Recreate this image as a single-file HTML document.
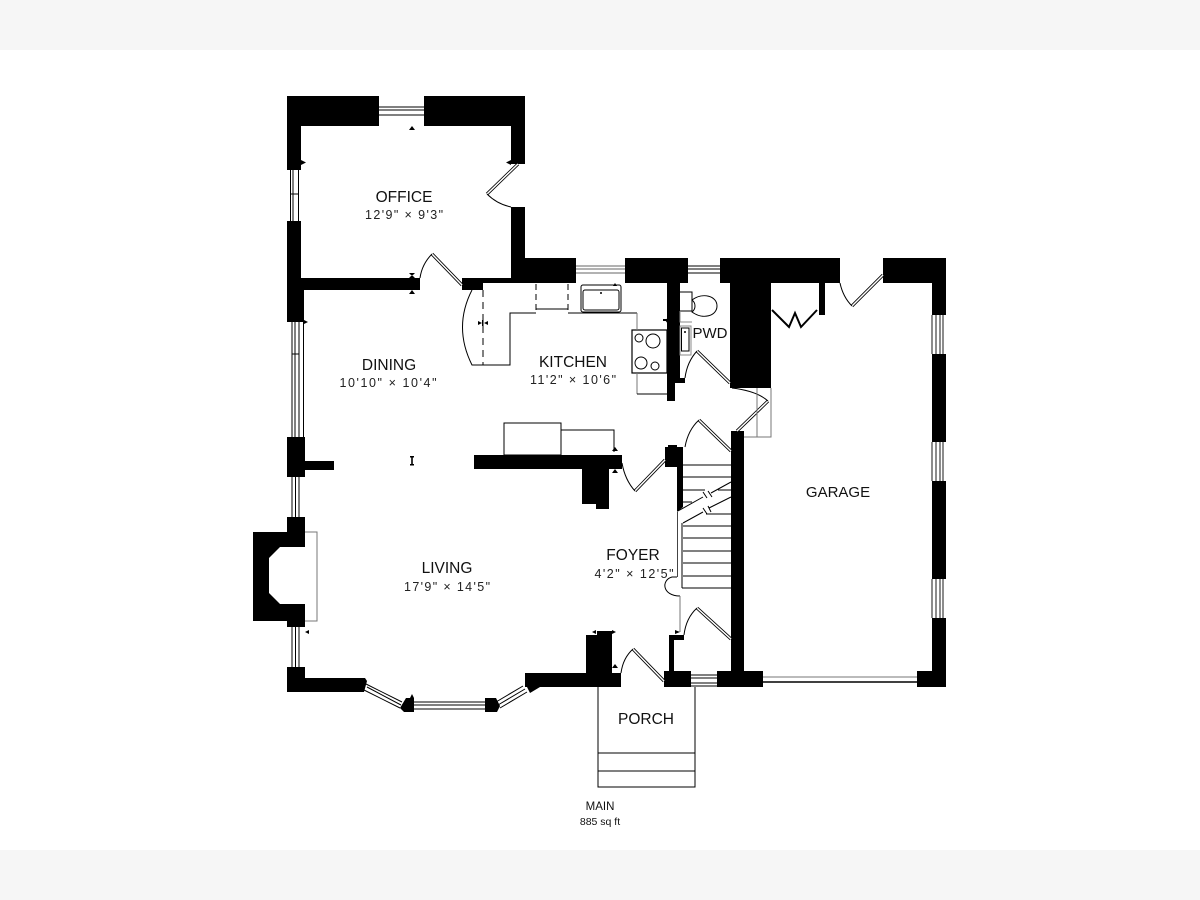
<!DOCTYPE html>
<html><head><meta charset="utf-8"><style>
html,body{margin:0;padding:0;background:#fff}
svg{display:block}
text{font-family:"Liberation Sans",sans-serif;fill:#111;text-anchor:middle}
.n{font-size:15.5px}.d{font-size:12.5px;fill:#222}
.w{fill:#000;stroke:none}
.l{fill:none;stroke:#000;stroke-width:1}
.g{fill:none;stroke:#777;stroke-width:1}
.dr{fill:none;stroke:#000;stroke-width:3.2}
.dw{fill:none;stroke:#fff;stroke-width:1.5}
</style></head><body>
<svg width="1200" height="900" viewBox="0 0 1200 900" xmlns="http://www.w3.org/2000/svg">
<rect width="1200" height="900" fill="#fff"/>
<rect width="1200" height="50" fill="#f6f6f6"/>
<rect y="850" width="1200" height="50" fill="#f6f6f6"/>

<!-- walls -->
<g class="w">
<rect x="287" y="96" width="92" height="30"/>
<rect x="424" y="96" width="101" height="30"/>
<rect x="287" y="96" width="14" height="74"/>
<rect x="511" y="96" width="14" height="68"/>
<rect x="511" y="207" width="14" height="76"/>
<rect x="511" y="258" width="65" height="25"/>
<rect x="287" y="221" width="14" height="69"/>
<rect x="287" y="278" width="133" height="12"/>
<rect x="287" y="290" width="17" height="32"/>
<rect x="462" y="278" width="21" height="12"/>
<rect x="462" y="278" width="60" height="5"/>
<rect x="625" y="258" width="63" height="25"/>
<rect x="667" y="283" width="13" height="100"/>
<rect x="667" y="383" width="8" height="18"/>
<rect x="675" y="378" width="10" height="5"/>
<rect x="720" y="258" width="120" height="25"/>
<rect x="730" y="283" width="41" height="105"/>
<rect x="819" y="283" width="6" height="32"/>
<rect x="883" y="258" width="63" height="25"/>
<rect x="932" y="283" width="14" height="32"/>
<rect x="932" y="354" width="14" height="88"/>
<rect x="932" y="481" width="14" height="98"/>
<rect x="932" y="618" width="14" height="69"/>
<rect x="917" y="671" width="29" height="16"/>
<rect x="731" y="431" width="13" height="240"/>
<rect x="717" y="671" width="46" height="16"/>
<rect x="664" y="671" width="27" height="16"/>
<rect x="669" y="635" width="5" height="36"/>
<rect x="669" y="635" width="15" height="5"/>
<rect x="525" y="673" width="96" height="14"/>
<rect x="586" y="635" width="26" height="38"/>
<rect x="597" y="631" width="15" height="5"/>
<polygon points="525,673 525,683 530,693 540,687 525,680"/>
<rect x="287" y="667" width="18" height="25"/>
<polygon points="287,678 365,678 367,681 364,692 287,692"/>
<polygon points="406,698 414,698 414,712 404,712 400,708"/>
<polygon points="485,698 496,698 500,706 497,712 485,712"/>
<rect x="287" y="437" width="18" height="40"/>
<rect x="305" y="461" width="29" height="9"/>
<path d="M287,517H305V627H287V621H253V532H287ZM305,547H280L269,558V593L280,604H305Z" fill-rule="evenodd"/>
<rect x="474" y="455" width="148" height="14"/>
<rect x="582" y="468" width="27" height="36"/>
<rect x="596" y="468" width="13" height="41"/>
<rect x="665" y="447" width="18" height="20"/>
<rect x="668" y="445" width="9" height="5"/>
<polygon points="677,467 683,467 683,507 677,512"/>
</g>

<!-- windows -->
<g class="l">
<path d="M379,107H424M379,110H424M379,115H424"/>
<path d="M290.500,170V221M293,170V221M298.500,170V221M290,194H299"/>
<path d="M576,266H625M576,269H625M576,273H625" stroke="#666"/>
<path d="M688,266H720M688,269H720M688,273H720"/>
<path d="M932,315V354M936,315V354M940,315V354M943,315V354" stroke-width=".9"/>
<path d="M932,442V481M936,442V481M940,442V481M943,442V481" stroke-width=".9"/>
<path d="M932,579V618M936,579V618M940,579V618M943,579V618" stroke-width=".9"/>
<path d="M763,677H917" stroke="#777"/><path d="M763,682H917" stroke-width="1.4"/>
<path d="M691,675H717M691,678H717M691,683H717M691,686H717"/>
<path d="M292,322V437M295,322V437M299,322V437M303.500,322V437M292,354H299"/>
<path d="M292,477V517M295.500,477V517M299,477V517"/>
<path d="M292,627V667M295.500,627V667M299,627V667"/>
<path d="M366,684L402,702M367,687L401,705M364,690L400,708"/>
<path d="M414,702H485M414,705H485M414,709H485"/>
<path d="M496,702L523,686M498,705L525,689M500,708L527,692"/>
<path d="M598,687V787H695V687M598,753H695M598,771H695"/>
</g>
<path d="M305,532H317V621H305" class="g"/>

<!-- doors -->
<g>
<path class="dr" d="M518,164L487,194"/><path class="dw" d="M518,164L487,194"/>
<path class="l" d="M487,194Q497,204 511,207"/>
<path class="dr" d="M462,285L432,254"/><path class="dw" d="M462,285L432,254"/>
<path class="l" d="M432,254Q422,264 420,278"/>
<path class="dr" d="M730,383L697,351"/><path class="dw" d="M730,383L697,351"/>
<path class="l" d="M697,351Q687,362 685,378"/>
<path class="dr" d="M737,431L768,401"/><path class="dw" d="M737,431L768,401"/>
<path class="l" d="M768,401Q757,391 732,388"/>
<path class="dr" d="M731,451L699,420"/><path class="dw" d="M731,451L699,420"/>
<path class="l" d="M699,420Q688,430 685,447"/>
<path class="dr" d="M665,460L635,491"/><path class="dw" d="M665,460L635,491"/>
<path class="l" d="M635,491Q625,480 622,463"/>
<path class="dr" d="M883,275L852,306"/><path class="dw" d="M883,275L852,306"/>
<path class="l" d="M852,306Q843,297 840,283"/>
<path class="dr" d="M731,639L697,608"/><path class="dw" d="M731,639L697,608"/>
<path class="l" d="M697,608Q686,618 684,635"/>
<path class="dr" d="M664,681L633,649"/><path class="dw" d="M664,681L633,649"/>
<path class="l" d="M633,649Q623,658 621,673"/>
<path d="M772,310L789,327L795,313L801,327L817,310" fill="none" stroke="#000" stroke-width="2"/>
<path class="l" d="M677,577H672C661,580 662,596 680,596"/>
</g>

<!-- kitchen -->
<g class="l">
<path d="M472,290Q453,327 472,365H510V313H536M536,309H568M568,313H637"/>
<path d="M483,290V365" stroke-dasharray="7 5"/>
<path d="M536,284V310M568,284V310" stroke-dasharray="6 4"/>
<rect x="581" y="285" width="40" height="27" rx="2"/>
<rect x="583" y="290" width="36" height="20" rx="2"/>
<rect x="632" y="330" width="35" height="43" stroke-width="1.2"/>
<circle cx="639" cy="338" r="4"/><circle cx="653" cy="341" r="7"/>
<circle cx="641" cy="363" r="6"/><circle cx="655" cy="366" r="4"/>
<path d="M637,373V394" stroke="#777"/><path d="M637,313V330" stroke="#777"/>
<path d="M637,394H667"/>
<rect x="504" y="423" width="57" height="32"/>
<path d="M561,430H614V452"/>
<path d="M692,300C703,292 717,296 717,306C717,316 703,320 692,312C696,309 696,303 692,300Z"/>
<path d="M680,292H692V311H680"/>
<path d="M680,311V322H692" stroke="#888"/>
<rect x="680" y="326" width="11" height="29" stroke="#888"/>
<rect x="681.500" y="328" width="7.500" height="23"/>
</g>
<circle cx="601" cy="293" r="1" fill="#000"/><circle cx="685" cy="332" r="1" fill="#000"/>
<path class="g" d="M757,388V437M771,388V437H744"/>
<path d="M677.500,512V577" stroke="#444" fill="none"/>
<path d="M680,596V632" class="g"/>

<!-- stairs -->
<g class="l">
<path d="M683,465H731M683,477H731M683,490H705M683,502H692M718,490H731M706,514H731M692,526H731M683,526H692M683,538H731M683,551H731M683,563H731M683,576H731M682,588H731M682,523V588"/>
<path d="M678,511L703,497M711,493L731,482M683,523L703,512M709,508L731,497"/>
<path d="M703,492L707,498M708,491L712,497M703,508L707,514M708,506L711,512"/>
</g>

<!-- small arrow ticks -->
<g fill="#000">
<path d="M409,130H415L412,126Z"/>
<path d="M301,160L306,162.500L301,165Z"/><path d="M511,160L506,162.500L511,165Z"/>
<path d="M409,278L412,275L415,278ZM409,273L412,276L415,273ZM409,294H415L412,290Z"/>
<path d="M304,320L308,322L304,324Z"/>
<path d="M478,321L482,323L478,325ZM488,321L484,323L488,325Z"/><rect x="482" y="320" width="1.500" height="6"/>
<path d="M410,456H414V457.500H412.800V464H414V465.500H410V464H411.200V457.500H410Z"/>
<path d="M305,632L309,630V634Z"/>
<path d="M410,698L412,694L414,698Z"/>
<path d="M612,451L615,447L618,451Z"/><path d="M612,473L615,469L618,473Z"/>
<path d="M592,632L596,630V634ZM616,632L612,630V634Z"/>
<path d="M612,668L615,664L618,668Z"/>
<path d="M675,630L680,632L675,634Z"/>
<path d="M665,320L668,318V324Z"/><rect x="663" y="319" width="4" height="2"/>
<path d="M613,286L615,283L617,286Z"/>
</g>

<!-- labels -->
<text class="n" x="404" y="202">OFFICE</text>
<text class="d" x="404" y="219" textLength="78" lengthAdjust="spacing">12'9" × 9'3"</text>
<text class="n" x="389" y="370">DINING</text>
<text class="d" x="388" y="387" textLength="97" lengthAdjust="spacing">10'10" × 10'4"</text>
<text class="n" x="573" y="367">KITCHEN</text>
<text class="d" x="573" y="384" textLength="86" lengthAdjust="spacing">11'2" × 10'6"</text>
<text class="n" x="710" y="338" style="font-size:15px">PWD</text>
<text class="n" x="838" y="497" style="font-size:15px">GARAGE</text>
<text class="n" x="447" y="573">LIVING</text>
<text class="d" x="447" y="591" textLength="86" lengthAdjust="spacing">17'9" × 14'5"</text>
<text class="n" x="633" y="560">FOYER</text>
<text class="d" x="634" y="578" textLength="79" lengthAdjust="spacing">4'2" × 12'5"</text>
<text class="n" x="646" y="724">PORCH</text>
<text x="600" y="810" style="font-size:11.500px">MAIN</text>
<text x="600" y="825" style="font-size:10.500px">885 sq ft</text>
</svg>
</body></html>
